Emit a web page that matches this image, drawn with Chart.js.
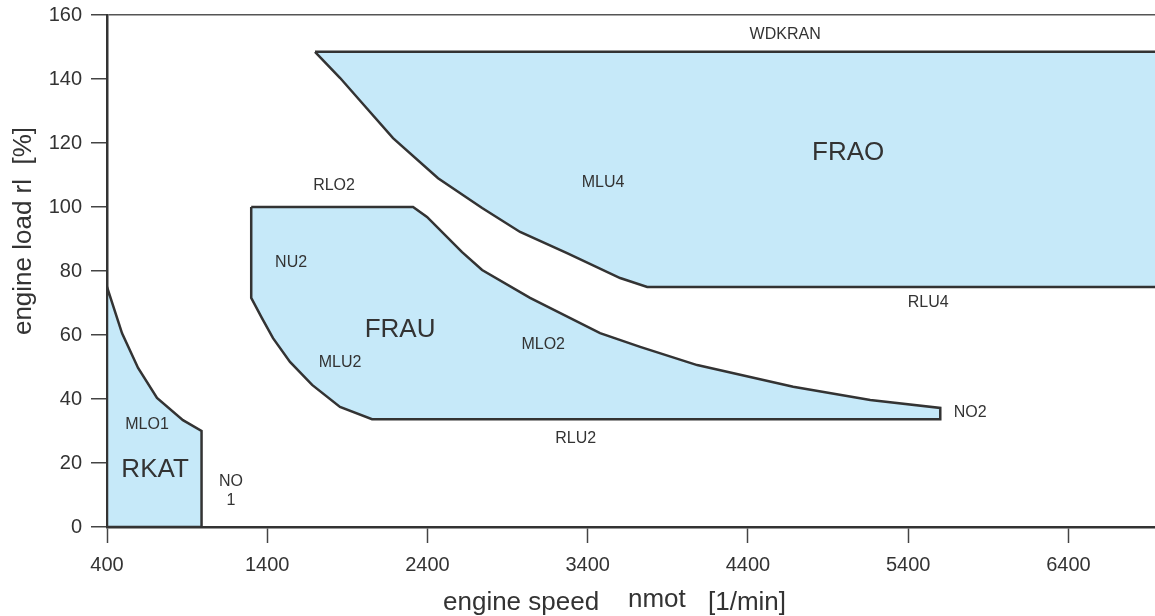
<!DOCTYPE html>
<html>
<head>
<meta charset="utf-8">
<script src="https://cdn.jsdelivr.net/npm/chart.js@4/dist/chart.umd.min.js"></script>
<style>
  html, body { margin: 0; padding: 0; background: #ffffff; }
  #wrap { width: 1155px; height: 616px; }
</style>
</head>
<body>
<div id="wrap"><canvas id="c" width="1155" height="616"></canvas></div>
<script>
// ---- data (engine speed [1/min], engine load [%]) ----
const xTicks = [400, 1400, 2400, 3400, 4400, 5400, 6400];
const yTicks = [0, 20, 40, 60, 80, 100, 120, 140, 160];

const rkatX = [400, 494, 594, 712, 874, 990, 990, 400, 400];
const rkatY = [75, 60.5, 49.7, 40.3, 33.4, 30, 0, 0, 75];

const frauX = [1300, 2310, 2397, 2616, 2741, 3040, 3477, 3727, 4083, 4682, 5163, 5600, 5600, 2054, 1854, 1680, 1542, 1436, 1367, 1300, 1300];
const frauY = [100, 100, 96.9, 85.9, 80.3, 71.6, 60.6, 56.3, 50.6, 43.8, 39.7, 37.2, 33.7, 33.7, 37.5, 44.4, 51.6, 59, 65.3, 71.6, 100];

const fraoX = [1698, 7000, 7000, 3771, 3602, 3271, 2978, 2741, 2466, 2185, 1992, 1855, 1698];
const fraoY = [148.5, 148.5, 75, 75, 77.8, 85.6, 92.2, 99.7, 109, 121.5, 132.5, 140.3, 148.5];

const labelTexts = ['WDKRAN', 'FRAO', 'MLU4', 'RLO2', 'NU2', 'FRAU', 'MLU2', 'MLO2', 'RLU4', 'NO2', 'RLU2', 'MLO1', 'RKAT', 'NO', '1'];
const labelX = [4632, 5025, 3496, 1817, 1549, 2229, 1854, 3122, 5525, 5787, 3325, 650, 700, 1174, 1174];
const labelY = [154, 116.9, 107.5, 106.6, 82.5, 61.6, 51.3, 56.9, 70, 35.6, 27.5, 31.9, 17.8, 14.1, 8.4];

const xMin = 400, xMax = 6940, yMin = 0, yMax = 160;

// ---- chart ----
const FONT = '"Liberation Sans", Arial, Helvetica, sans-serif';
const TXT = '#333333';
const LINE = '#333333';
const FILL = 'rgb(198, 233, 249)';

function pts(xs, ys) { return xs.map((v, i) => ({ x: v, y: ys[i] })); }

function region(name, xs, ys) {
  return {
    label: name,
    data: pts(xs, ys),
    borderColor: LINE,
    borderWidth: 2.5,
    backgroundColor: FILL,
    fill: 'shape',
    pointRadius: 0,
    tension: 0,
    borderJoinStyle: 'miter'
  };
}

const bigLabels = ['FRAO', 'FRAU', 'RKAT'];

const annotate = {
  id: 'annotate',
  afterDatasetsDraw(chart) {
    const { ctx, scales: { x, y } } = chart;
    ctx.save();
    ctx.fillStyle = TXT;
    ctx.textAlign = 'center';
    ctx.textBaseline = 'middle';
    labelTexts.forEach((t, i) => {
      const size = bigLabels.includes(t) ? 26 : 16;
      ctx.font = size + 'px ' + FONT;
      ctx.fillText(t, x.getPixelForValue(labelX[i]), y.getPixelForValue(labelY[i]));
    });
    ctx.restore();
  },
  afterDraw(chart) {
    const { ctx } = chart;
    ctx.save();
    ctx.fillStyle = TXT;
    ctx.font = '26px ' + FONT;
    ctx.textAlign = 'left';
    ctx.textBaseline = 'alphabetic';
    ctx.fillText('engine speed', 443, 610);
    ctx.fillText('nmot', 628, 607);
    ctx.fillText('[1/min]', 708, 610);
    ctx.translate(24, 231);
    ctx.rotate(-Math.PI / 2);
    ctx.textAlign = 'center';
    ctx.textBaseline = 'middle';
    ctx.fillText('engine load rl  [%]', 0, 0);
    ctx.restore();
  }
};

new Chart(document.getElementById('c'), {
  type: 'line',
  data: {
    datasets: [
      region('FRAO', fraoX, fraoY),
      region('FRAU', frauX, frauY),
      region('RKAT', rkatX, rkatY)
    ]
  },
  options: {
    responsive: false,
    animation: false,
    devicePixelRatio: 1,
    layout: { padding: { top: 15, right: 0, left: 0, bottom: 0 } },
    plugins: { legend: { display: false }, tooltip: { enabled: false } },
    scales: {
      x: {
        type: 'linear',
        min: xMin,
        max: xMax,
        afterBuildTicks: (s) => { s.ticks = xTicks.map(v => ({ value: v })); },
        afterFit: (s) => { s.height = 89; s.paddingLeft = 0; s.paddingRight = 0; },
        border: { display: true, color: LINE, width: 2.5 },
        grid: { display: true, drawOnChartArea: false, drawTicks: true, tickLength: 16, tickColor: '#444', tickWidth: 1.5 },
        ticks: { color: TXT, font: { family: FONT, size: 20 }, padding: 10, maxRotation: 0, autoSkip: false, callback: (v) => String(v) },
        title: { display: false }
      },
      y: {
        type: 'linear',
        min: yMin,
        max: yMax,
        afterBuildTicks: (s) => { s.ticks = yTicks.map(v => ({ value: v })); },
        afterFit: (s) => { s.width = 107; s.paddingTop = 0; s.paddingBottom = 0; },
        border: { display: true, color: LINE, width: 2.5 },
        grid: {
          display: true,
          drawOnChartArea: true,
          drawTicks: true,
          tickLength: 16,
          tickColor: '#444',
          tickWidth: 1.5,
          color: (c) => (c.tick && c.tick.value === yMax) ? '#555' : 'rgba(0,0,0,0)',
          lineWidth: 1.5
        },
        ticks: { color: TXT, font: { family: FONT, size: 20 }, padding: 9, autoSkip: false, callback: (v) => String(v) },
        title: { display: false }
      }
    }
  },
  plugins: [annotate]
});
</script>
</body>
</html>
